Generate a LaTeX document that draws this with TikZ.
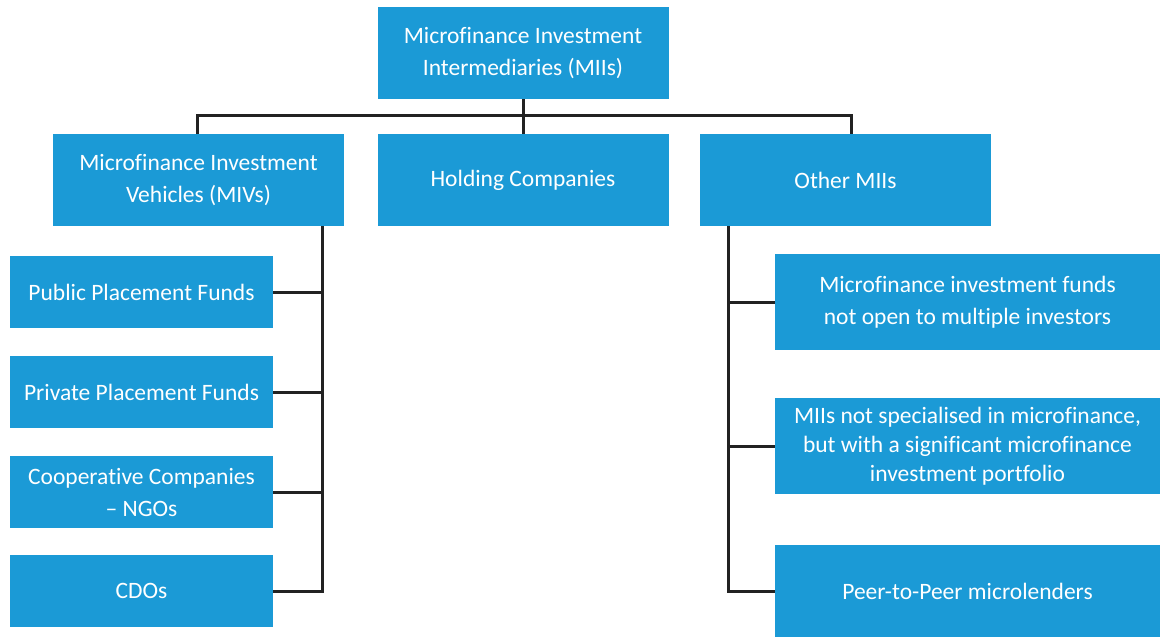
\documentclass[tikz,border=0pt]{standalone}
\usepackage{fontspec}
\setmainfont{Carlito}[Ligatures=NoCommon]
\definecolor{miiblue}{HTML}{1B9AD6}
\definecolor{linegray}{HTML}{222222}

\begin{document}
\begin{tikzpicture}[x=1pt, y=-1pt,
	box/.style={fill=miiblue, text=white, align=center, inner sep=0pt,
		font=\fontsize{23.5}{32}\selectfont},
	link/.style={draw=linegray, line width=3pt}]
	\useasboundingbox (0,0) rectangle (1165,638);
	
	\node[box, minimum width=291pt, minimum height=92pt] (mii) at (523,53) {Microfinance Investment\\Intermediaries (MIIs)};
	
	\node[box, minimum width=291pt, minimum height=92pt] (miv) at (198.5,180) {Microfinance Investment\\Vehicles (MIVs)};
	\node[box, minimum width=291pt, minimum height=92pt] (hold) at (523,180) {Holding Companies};
	\node[box, minimum width=291pt, minimum height=92pt] (other) at (845.5,180) {Other MIIs};
	
	\node[box, minimum width=263pt, minimum height=72pt] (pub) at (141.5,292) {Public Placement Funds};
	\node[box, minimum width=263pt, minimum height=72pt] (priv) at (141.5,392) {Private Placement Funds};
	\node[box, minimum width=263pt, minimum height=72pt] (coop) at (141.5,492) {Cooperative Companies\\-- NGOs};
	\node[box, minimum width=263pt, minimum height=72pt] (cdo) at (141.5,591) {CDOs};
	
	\node[box, minimum width=385pt, minimum height=96pt] (fund) at (967.5,302) {Microfinance investment funds\\not open to multiple investors};
	\node[box, minimum width=385pt, minimum height=96pt, font=\fontsize{23.5}{29}\selectfont] (spec) at (967.5,446) {MIIs not specialised in microfinance,\\but with a significant microfinance\\investment portfolio};
	\node[box, minimum width=385pt, minimum height=92pt] (p2p) at (967.5,591) {Peer-to-Peer microlenders};
	
	\coordinate (busL) at (197,115);
	\coordinate (busR) at (851,115);
	\coordinate (spL) at (322,0);
	\coordinate (spR) at (728,0);
	
	\draw[link] (mii.south) -- (hold.north);
	\draw[link] (miv.north -| busL) -- (busL) -- (busR) -- (other.north -| busR);
	
	\draw[link] (miv.south -| spL) -- (cdo.east -| spL) -- (cdo.east);
	\foreach \n in {pub, priv, coop}
		\draw[link] (\n.east) -- (\n.east -| spL);
	
	\draw[link] (other.south -| spR) -- (p2p.west -| spR) -- (p2p.west);
	\foreach \n in {fund, spec}
		\draw[link] (\n.west) -- (\n.west -| spR);
\end{tikzpicture}
\end{document}
